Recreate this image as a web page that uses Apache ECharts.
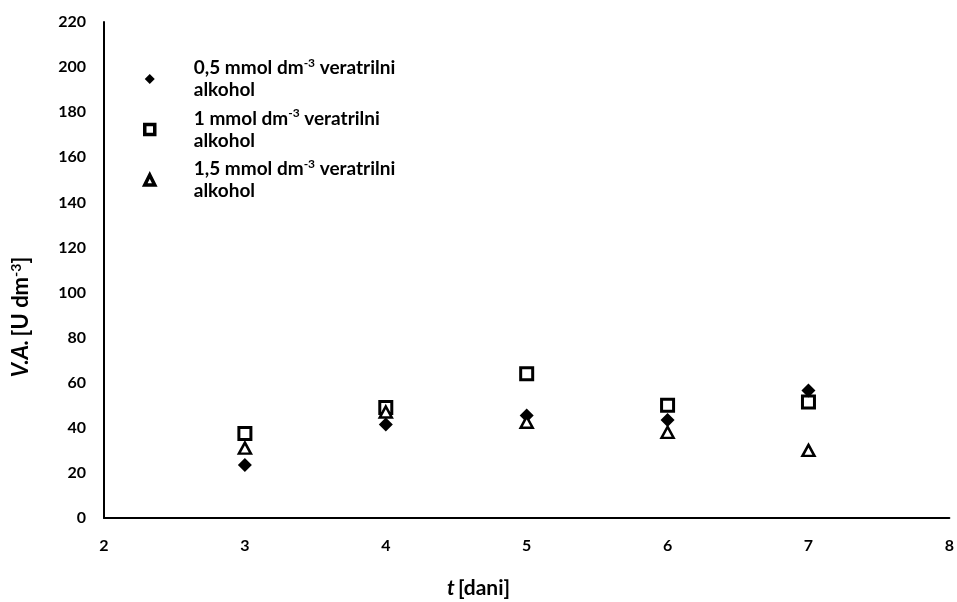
<!DOCTYPE html>
<html><head><meta charset="utf-8">
<script src="https://cdn.jsdelivr.net/npm/echarts@6/dist/echarts.min.js"></script>
<style>html,body{margin:0;padding:0;background:#fff}#c{width:957px;height:602px}</style>
</head><body><div id="c"></div>
<script>
const days = [3, 4, 5, 6, 7];
const va05 = [23.5, 41.5, 45.5, 43.5, 56.5];
const va10 = [37.5, 49, 64, 50, 51.5];
const va15 = [31, 47, 42.5, 38, 30];
const seriesNames = ['0,5 mmol dm-3 veratrilni alkohol', '1 mmol dm-3 veratrilni alkohol', '1,5 mmol dm-3 veratrilni alkohol'];
const legendLabels = {
  [seriesNames[0]]: '{t|0,5 mmol dm}{s|-3}{t| veratrilni}\n{t|alkohol}',
  [seriesNames[1]]: '{t|1 mmol dm}{s|-3}{t| veratrilni}\n{t|alkohol}',
  [seriesNames[2]]: '{t|1,5 mmol dm}{s|-3}{t| veratrilni}\n{t|alkohol}'
};
const F = 'Lato, "Open Sans", sans-serif';
const chart = echarts.init(document.getElementById('c'), null, {renderer: 'canvas'});
const pair = arr => days.map((d, i) => [d, arr[i]]);
chart.setOption({
  animation: false,
  backgroundColor: '#fff',
  grid: {left: 104, right: 7, top: 22, bottom: 84, containLabel: false},
  xAxis: {
    type: 'value', min: 2, max: 8, interval: 1,
    axisLine: {show: true, lineStyle: {color: '#000', width: 2}},
    axisTick: {show: false},
    splitLine: {show: false},
    axisLabel: {color: '#000', fontFamily: F, fontWeight: 'bold', fontSize: 16, margin: 20}
  },
  yAxis: {
    type: 'value', min: 0, max: 220, interval: 20,
    axisLine: {show: true, lineStyle: {color: '#000', width: 2}},
    axisTick: {show: false},
    splitLine: {show: false},
    axisLabel: {color: '#000', fontFamily: F, fontWeight: 'bold', fontSize: 16, margin: 18}
  },
  legend: {
    orient: 'vertical', left: 138, top: 52, itemGap: 8, itemWidth: 10, itemHeight: 10,
    selectedMode: false,
    formatter: n => legendLabels[n],
    textStyle: {
      color: '#000', fontFamily: F, fontWeight: 'bold', fontSize: 19, padding: [0, 0, 0, 34],
      rich: {
        t: {fontFamily: F, fontWeight: 'bold', fontSize: 19, color: '#000', lineHeight: 22},
        s: {fontFamily: F, fontWeight: 'bold', fontSize: 12, color: '#000', padding: [0, 0, 10, 0]}
      }
    },
    data: [
      {name: seriesNames[0]},
      {name: seriesNames[1], itemStyle: {borderWidth: 3.5}},
      {name: seriesNames[2], itemStyle: {borderWidth: 3.5}}
    ]
  },
  graphic: [
    {type: 'text', left: 'center', top: 578, style: {
      text: '{i|t} {b|[dani]}',
      rich: {
        i: {fontFamily: F, fontWeight: 'bold', fontStyle: 'italic', fontSize: 21, fill: '#000'},
        b: {fontFamily: F, fontWeight: 'bold', fontSize: 21, fill: '#000'}
      }
    }},
    {type: 'text', x: 21, y: 317, rotation: Math.PI / 2, style: {
      text: '{i|V.A.} {b|[U dm}{s|-3}{b|]}', align: 'center', verticalAlign: 'middle',
      rich: {
        i: {fontFamily: F, fontWeight: 'bold', fontStyle: 'italic', fontSize: 22, fill: '#000'},
        b: {fontFamily: F, fontWeight: 'bold', fontSize: 22, fill: '#000'},
        s: {fontFamily: F, fontWeight: 'bold', fontSize: 14, fill: '#000', padding: [0, 0, 10, 0]}
      }
    }}
  ],
  series: [
    {name: seriesNames[0], type: 'scatter', symbol: 'diamond', symbolSize: 14,
      itemStyle: {color: '#000', opacity: 1}, data: pair(va05), z: 3},
    {name: seriesNames[1], type: 'scatter', symbol: 'rect', symbolSize: 12,
      itemStyle: {color: '#fff', borderColor: '#000', borderWidth: 3, opacity: 1}, data: pair(va10), z: 2},
    {name: seriesNames[2], type: 'scatter', symbol: 'triangle', symbolSize: [12, 11],
      itemStyle: {color: '#fff', borderColor: '#000', borderWidth: 2.5, opacity: 1}, data: pair(va15), z: 4}
  ]
});
</script></body></html>
